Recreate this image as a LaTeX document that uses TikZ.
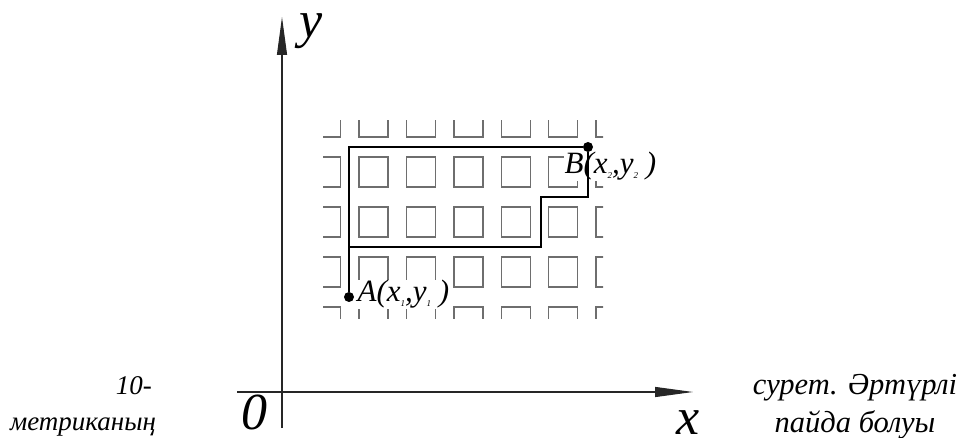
\documentclass[tikz,border=0pt]{standalone}
\usepackage{fontspec}
\setmainfont{Liberation Serif}
\usetikzlibrary{arrows.meta, positioning}
\definecolor{gridgray}{HTML}{6E6E6E}
\newcommand{\sub}[1]{\raisebox{-0.3ex}{\fontsize{9}{9}\selectfont #1}}

\begin{document}
\begin{tikzpicture}[
    x=1pt, y=-1pt,
    cell/.style={draw=gridgray, line width=1.4pt},
    axis/.style={-{Triangle[length=38pt, width=10pt]}, line width=1.1pt, draw=black!85},
    route/.style={draw=black, line width=1.1pt},
    dot/.style={circle, fill=black, inner sep=0pt, minimum size=10pt},
    lbl/.style={font=\fontsize{31}{31}\selectfont\itshape, inner sep=0.5pt, fill=white},
    big/.style={font=\fontsize{52}{52}\selectfont\itshape, inner sep=0pt},
    capt/.style={font=\fontsize{27}{27}\selectfont\itshape, inner sep=0pt},
    captr/.style={font=\fontsize{30.5}{30.5}\selectfont\itshape, inner sep=0pt}
]
\useasboundingbox (0,0) rectangle (959,438);

% --- Grid of city blocks ---
\begin{scope}
\clip (323,121) rectangle (603,319);
\foreach \i in {-1,...,5}
  \foreach \j in {0,...,4}
    \draw[cell] ({359+47.4*\i},{107+50*\j}) rectangle ++(29,30);
\end{scope}

% --- Axes ---
\coordinate (xstart) at (237,392);
\coordinate (xend) at (693,392);
\coordinate (ystart) at (282,428);
\coordinate (yend) at (282,17);
\draw[axis] (xstart) -- (xend);
\draw[axis] (ystart) -- (yend);

\node[big] (ylab) at (311,31) {y};
\node[big] (orig) at (254,412) {0};
\node[big] (xlab) at (688,423) {x};

% --- Points and labels ---
\node[dot] (ptA) at (349,297) {};
\node[dot] (ptB) at (588,147) {};
\node[lbl, anchor=base west] (labA) at (357,302) {A(x\sub{1},y\sub{1} )};
\node[lbl, anchor=base west] (labB) at (564,174) {B(x\sub{2},y\sub{2} )};

% --- Routes ---
\coordinate (step1) at (541,197);
\coordinate (step2) at (349,247);
\draw[route] (ptA) |- (ptB);
\draw[route] (ptB) |- (step1) |- (step2);

% --- Caption ---
\node[capt, anchor=base east] (cap1) at (152,395) {10-};
\node[capt, anchor=base] (cap2) at (83,430) {метриканың};
\node[captr, anchor=base] (cap3) at (855,395) {сурет. Әртүрлі};
\node[captr, anchor=base] (cap4) at (855,432) {пайда болуы};
\end{tikzpicture}
\end{document}
